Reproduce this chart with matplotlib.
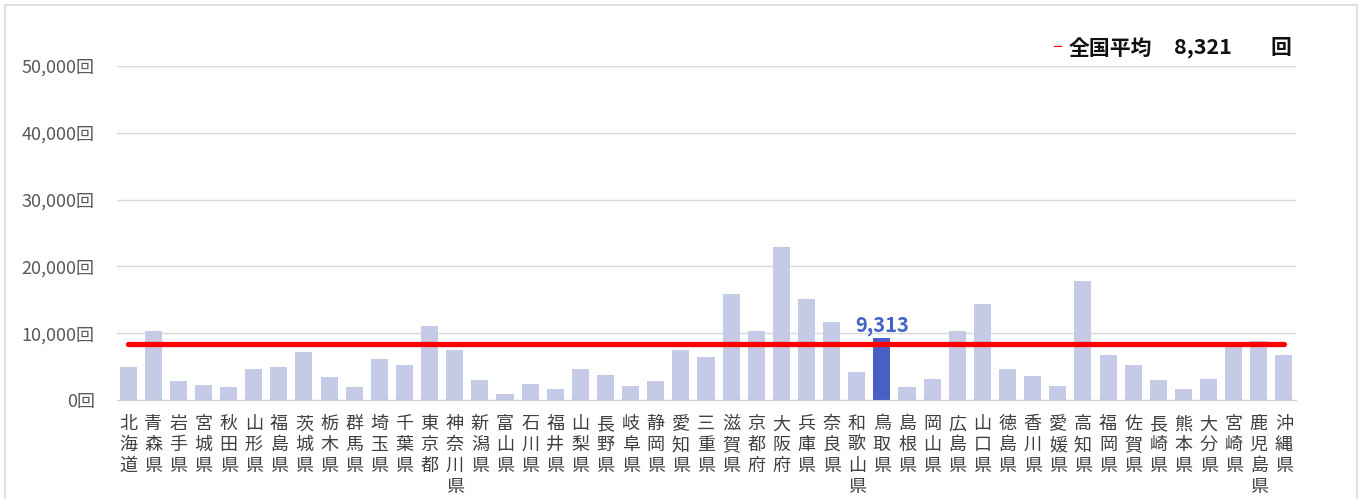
import matplotlib.pyplot as plt
from matplotlib.patches import Rectangle

plt.rcParams['font.family'] = ['Noto Sans CJK JP', 'DejaVu Sans']

# prefecture names and values (times)
prefectures = ['北海道', '青森県', '岩手県', '宮城県', '秋田県', '山形県', '福島県',
               '茨城県', '栃木県', '群馬県', '埼玉県', '千葉県', '東京都', '神奈川県',
               '新潟県', '富山県', '石川県', '福井県', '山梨県', '長野県', '岐阜県',
               '静岡県', '愛知県', '三重県', '滋賀県', '京都府', '大阪府', '兵庫県',
               '奈良県', '和歌山県', '鳥取県', '島根県', '岡山県', '広島県', '山口県',
               '徳島県', '香川県', '愛媛県', '高知県', '福岡県', '佐賀県', '長崎県',
               '熊本県', '大分県', '宮崎県', '鹿児島県', '沖縄県']
values = [5000, 10400, 2800, 2200, 1900, 4600, 4900,
          7200, 3500, 1900, 6100, 5200, 11100, 7500,
          3000, 850, 2400, 1600, 4700, 3700, 2100,
          2800, 7500, 6400, 15800, 10400, 22900, 15100,
          11700, 4200, 9313, 1900, 3100, 10300, 14300,
          4700, 3600, 2100, 17800, 6700, 5200, 3000,
          1600, 3100, 8600, 8900, 6700]
highlight = '鳥取県'
national_avg = 8321
y_ticks = [0, 10000, 20000, 30000, 40000, 50000]

W, H = 1364, 499
fig = plt.figure(figsize=(W / 100, H / 100), dpi=100)
fig.patches.append(Rectangle((5 / W, -0.1), (1357 - 5) / W, 1.1 - 5 / H,
                             transform=fig.transFigure, fill=False,
                             edgecolor='#d9d9d9', lw=1.2))

ax = fig.add_axes([117 / W, 99 / H, (1296 - 117) / W, (400 - 66) / H])

x = list(range(len(prefectures)))
colors = ['#4a5fc6' if p == highlight else '#c5cae6' for p in prefectures]
ax.bar(x, values, width=0.68, color=colors, zorder=2)

# national average line
ax.plot([x[0], x[-1]], [national_avg, national_avg], color='#ff0000', lw=3.8,
        solid_capstyle='round', zorder=3)

hi = prefectures.index(highlight)
ax.annotate(f'{values[hi]:,}', (hi, values[hi]), xytext=(0, 1),
            textcoords='offset points', ha='center', va='bottom',
            fontsize=14.5, fontweight='bold', color='#4664c8', zorder=4)

ax.set_xlim(-0.44, 46.48)
ax.set_ylim(0, 50000)
ax.set_yticks(y_ticks)
ax.set_yticklabels([f'{v:,}回' for v in y_ticks], fontsize=13, color='#595959')
ax.set_xticks(x)
ax.set_xticklabels(['\n'.join(p) for p in prefectures], fontsize=13,
                   color='#404040', linespacing=1.2, va='top')
ax.tick_params(axis='both', length=0)
ax.tick_params(axis='x', pad=11)
ax.tick_params(axis='y', pad=16)

ax.grid(axis='y', color='#d9d9d9', lw=1, zorder=0)
for s in ['top', 'right', 'left']:
    ax.spines[s].set_visible(False)
ax.spines['bottom'].set_color('#d0d0d0')

# legend-like text at the top right
fig.text(1052 / W, 1 - 48 / H, '−', color='#ff0000', fontsize=13, va='center')
fig.text(1069 / W, 1 - 48 / H, '全国平均', color='#111111', fontsize=15,
         fontweight='bold', va='center')
fig.text(1174 / W, 1 - 48 / H, f'{national_avg:,}', color='#111111', fontsize=15.5,
         fontweight='bold', va='center')
fig.text(1270 / W, 1 - 48 / H, '回', color='#111111', fontsize=15,
         fontweight='bold', va='center')

fig.savefig('out.png', dpi=100)
